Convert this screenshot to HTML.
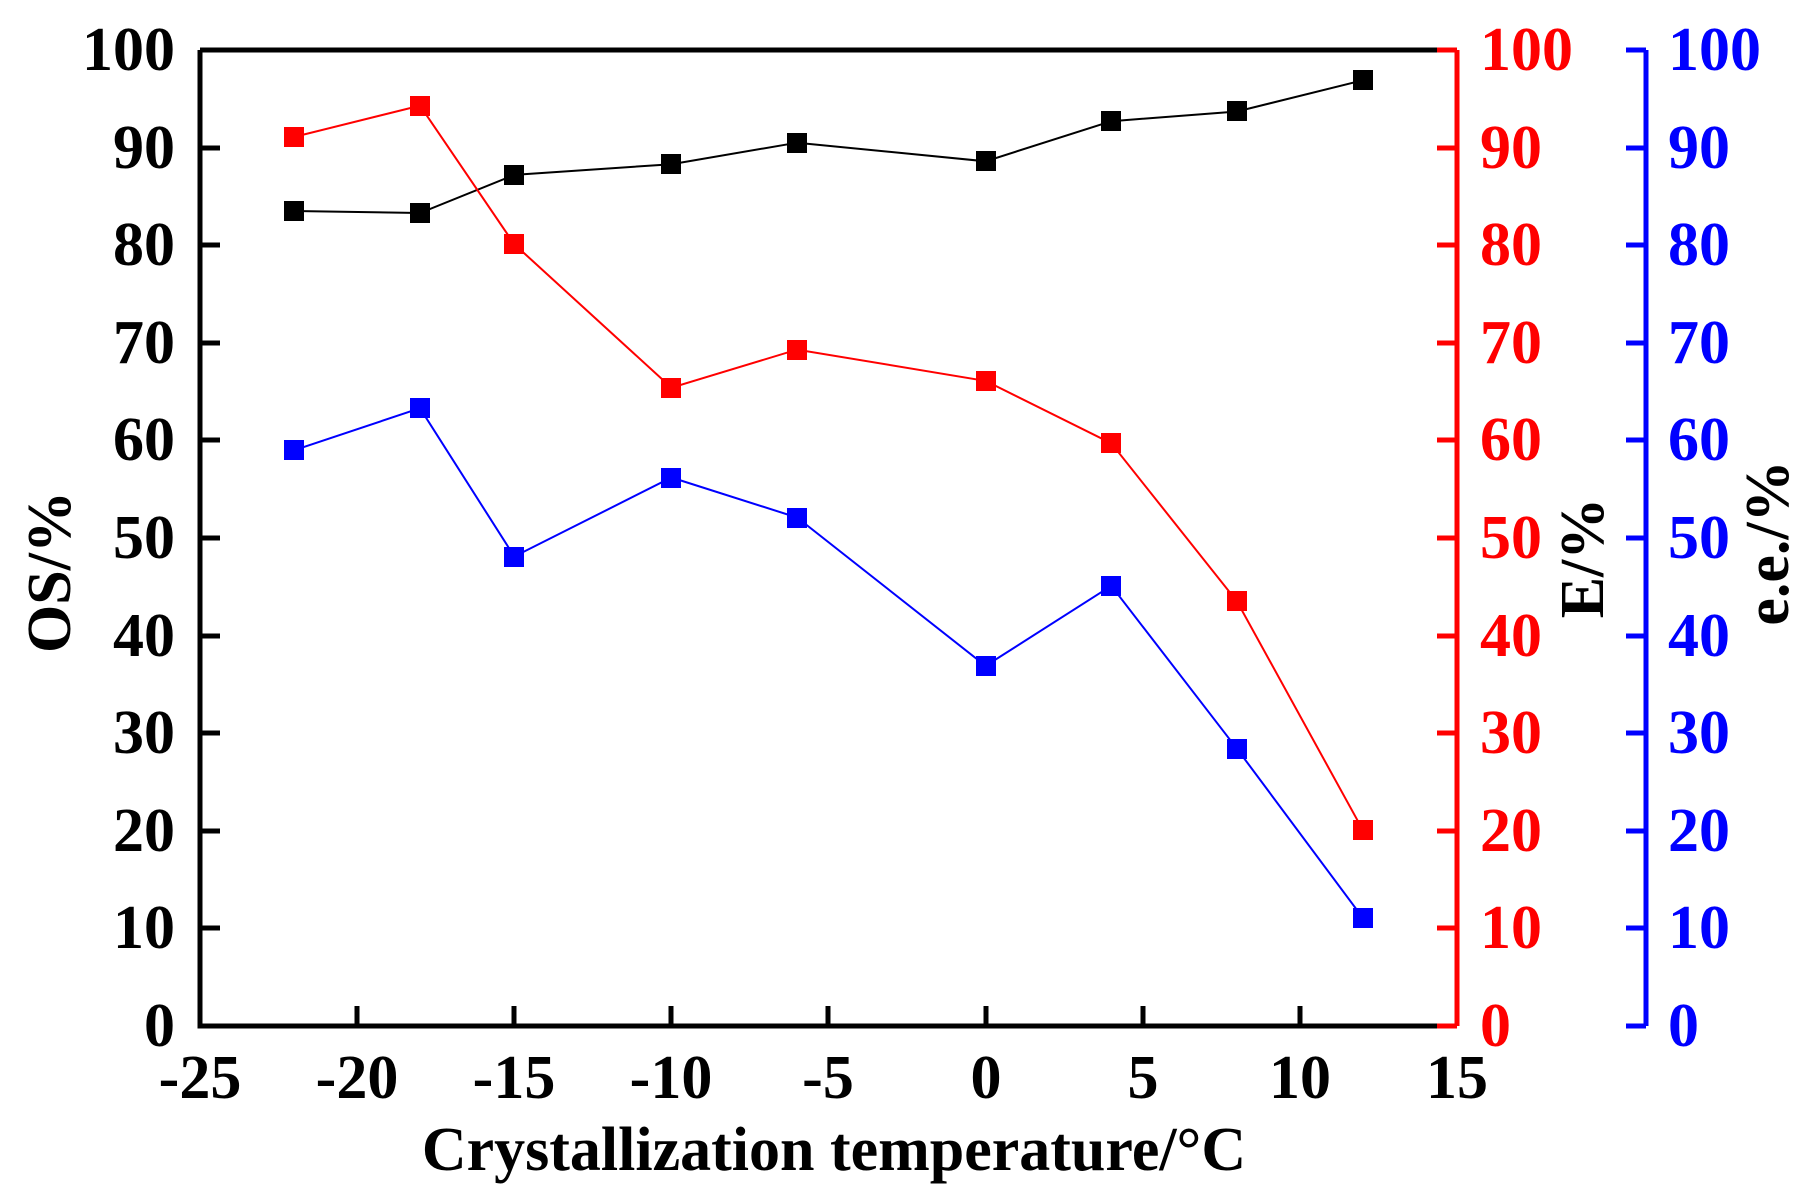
<!DOCTYPE html><html><head><style>body{margin:0;background:#fff}svg{display:block}text{font-family:"Liberation Serif",serif;font-weight:bold}</style></head><body>
<svg width="1815" height="1202" viewBox="0 0 1815 1202" xmlns="http://www.w3.org/2000/svg">
<rect width="1815" height="1202" fill="#fff"/>
<g stroke-width="5" fill="none">
<path d="M200,50 H1457 M200,50 V1026 H1457" stroke="#000"/>
<path d="M1457,50 V1026" stroke="#f00"/>
<path d="M1646,50 V1026" stroke="#00f"/>
</g>
<g font-size="62" text-anchor="end" fill="#000">
<text x="175" y="70">100</text><text x="175" y="168">90</text><text x="175" y="265">80</text><text x="175" y="363">70</text><text x="175" y="460">60</text><text x="175" y="558">50</text><text x="175" y="656">40</text><text x="175" y="753">30</text><text x="175" y="851">20</text><text x="175" y="948">10</text><text x="175" y="1046">0</text>
</g>
<g font-size="62" fill="#f00">
<text x="1480" y="70">100</text><text x="1480" y="168">90</text><text x="1480" y="265">80</text><text x="1480" y="363">70</text><text x="1480" y="460">60</text><text x="1480" y="558">50</text><text x="1480" y="656">40</text><text x="1480" y="753">30</text><text x="1480" y="851">20</text><text x="1480" y="948">10</text><text x="1480" y="1046">0</text>
</g>
<g font-size="62" fill="#00f">
<text x="1668" y="70">100</text><text x="1668" y="168">90</text><text x="1668" y="265">80</text><text x="1668" y="363">70</text><text x="1668" y="460">60</text><text x="1668" y="558">50</text><text x="1668" y="656">40</text><text x="1668" y="753">30</text><text x="1668" y="851">20</text><text x="1668" y="948">10</text><text x="1668" y="1046">0</text>
</g>
<g stroke-width="5">
<path stroke="#000" d="M200,148H220M200,245H220M200,343H220M200,440H220M200,538H220M200,636H220M200,733H220M200,831H220M200,928H220 M357,1026V1006M514,1026V1006M671,1026V1006M828,1026V1006M986,1026V1006M1143,1026V1006M1300,1026V1006"/>
<path stroke="#f00" d="M1457,50H1437M1457,148H1437M1457,245H1437M1457,343H1437M1457,440H1437M1457,538H1437M1457,636H1437M1457,733H1437M1457,831H1437M1457,928H1437M1457,1026H1437"/>
<path stroke="#00f" d="M1646,50H1626M1646,148H1626M1646,245H1626M1646,343H1626M1646,440H1626M1646,538H1626M1646,636H1626M1646,733H1626M1646,831H1626M1646,928H1626M1646,1026H1626"/>
</g>
<g font-size="62" text-anchor="middle" fill="#000">
<text x="200" y="1098">-25</text><text x="357" y="1098">-20</text><text x="514" y="1098">-15</text><text x="671" y="1098">-10</text><text x="828" y="1098">-5</text><text x="986" y="1098">0</text><text x="1143" y="1098">5</text><text x="1300" y="1098">10</text><text x="1457" y="1098">15</text>
<text x="834" y="1170">Crystallization temperature/°C</text>
<text transform="translate(70,572) rotate(-90)">OS/%</text>
<text transform="translate(1603,558) rotate(-90)">E/%</text>
<text transform="translate(1788,543) rotate(-90)">e.e./%</text>
</g>
<g fill="none" stroke-width="2">
<polyline stroke="#000" points="294.3,211 420,213 514.3,174.9 671.4,164.2 797.1,142.7 985.6,161.3 1111.3,121.2 1237,111.5 1362.7,80.3"/>
<polyline stroke="#f00" points="294.3,136.9 420,105.6 514.3,244.2 671.4,387.7 797.1,349.6 985.6,380.9 1111.3,443.3 1237,601.4 1362.7,829.8"/>
<polyline stroke="#00f" points="294.3,450.2 420,408.2 514.3,556.5 671.4,477.5 797.1,517.5 985.6,665.9 1111.3,585.8 1237,748.8 1362.7,917.7"/>
</g>
<g fill="#000"><rect x="284" y="201" width="20" height="20"/><rect x="410" y="203" width="20" height="20"/><rect x="504" y="165" width="20" height="20"/><rect x="661" y="154" width="20" height="20"/><rect x="787" y="133" width="20" height="20"/><rect x="976" y="151" width="20" height="20"/><rect x="1101" y="111" width="20" height="20"/><rect x="1227" y="101" width="20" height="20"/><rect x="1353" y="70" width="20" height="20"/></g>
<g fill="#f00"><rect x="284" y="127" width="20" height="20"/><rect x="410" y="96" width="20" height="20"/><rect x="504" y="234" width="20" height="20"/><rect x="661" y="378" width="20" height="20"/><rect x="787" y="340" width="20" height="20"/><rect x="976" y="371" width="20" height="20"/><rect x="1101" y="433" width="20" height="20"/><rect x="1227" y="591" width="20" height="20"/><rect x="1353" y="820" width="20" height="20"/></g>
<g fill="#00f"><rect x="284" y="440" width="20" height="20"/><rect x="410" y="398" width="20" height="20"/><rect x="504" y="547" width="20" height="20"/><rect x="661" y="468" width="20" height="20"/><rect x="787" y="508" width="20" height="20"/><rect x="976" y="656" width="20" height="20"/><rect x="1101" y="576" width="20" height="20"/><rect x="1227" y="739" width="20" height="20"/><rect x="1353" y="908" width="20" height="20"/></g>
</svg></body></html>
